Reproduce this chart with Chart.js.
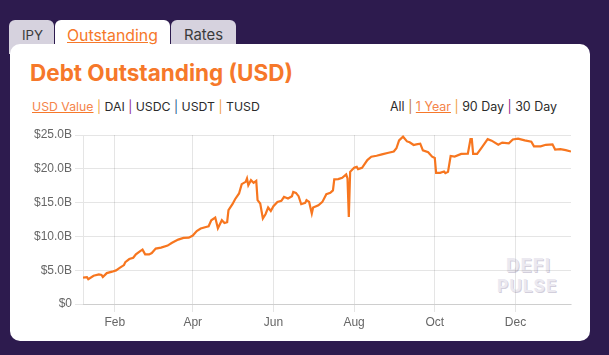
<!DOCTYPE html>
<html><head><meta charset="utf-8">
<script src="https://cdn.jsdelivr.net/npm/chart.js@4.4.1/dist/chart.umd.min.js"></script>
<style>
html,body{margin:0;padding:0;width:609px;height:355px;overflow:hidden;background:#2d1b4e;}
.tab{position:absolute;top:20px;height:34px;border-radius:6px 6px 0 0;background:#d6d2de;}
.tabtxt{position:absolute;white-space:nowrap;font-family:Inter,sans-serif;font-size:15px;line-height:15px;color:#3b3b3b;}
#card{position:absolute;left:10px;top:44px;width:580px;height:297px;background:#fff;border-radius:10px;}
.fit{position:absolute;white-space:nowrap;display:inline-block;}
#title{font-family:Inter,sans-serif;font-weight:700;color:#f6782a;font-size:24px;line-height:24px;}
.row{font-family:Inter,sans-serif;font-size:12px;line-height:12px;color:#2b2b2b;}
.sel{color:#f5844a;text-decoration:underline;text-decoration-color:#f6782a;}
.wm{font-family:Inter,sans-serif;font-weight:700;color:#ebe9f0;font-size:19px;line-height:19px;letter-spacing:1px;text-shadow:1px 1px 0 #d3cfdc;}
canvas{position:absolute;left:0;top:0;}
</style></head>
<body>
<div class="tab" style="left:9px;width:45px;"></div>
<div class="tab" style="left:55px;width:115px;background:#fff;"></div>
<div class="tab" style="left:171px;width:65px;"></div>
<div id="card"></div>
<span class="tabtxt fit" data-x="22" data-w="21" data-y="28">IPY</span>
<span class="tabtxt fit" data-x="67" data-w="91" data-y="28" style="color:#f6782a;text-decoration:underline;">Outstanding</span>
<span class="tabtxt fit" data-x="184" data-w="39" data-y="28">Rates</span>
<span id="title" class="fit" data-x="30" data-w="263" data-y="61">Debt Outstanding (USD)</span>
<span class="row fit" data-x="32" data-w="228" data-y="101"><span class="sel">USD Value</span> <span style="color:#f0a040">|</span> DAI <span style="color:#8c2a8c">|</span> USDC <span style="color:#2a5a8c">|</span> USDT <span style="color:#f0a040">|</span> TUSD</span>
<span class="row fit" data-x="390" data-w="167" data-y="101">All <span style="color:#b8742e">|</span> <span class="sel">1 Year</span> <span style="color:#f0a040">|</span> 90 Day <span style="color:#8c1a8c">|</span> 30 Day</span>
<span class="wm fit" data-x="506" data-w="45" data-y="256">DEFI</span>
<span class="wm fit" data-x="497" data-w="60" data-y="276">PULSE</span>
<canvas id="c" width="609" height="355"></canvas>
<script>
// ---- data (USD billions) ----
const dates = [
 "2021-01-08","2021-01-11","2021-01-12","2021-01-16","2021-01-20","2021-01-22","2021-01-23","2021-01-26","2021-01-30","2021-02-02",
 "2021-02-05","2021-02-08","2021-02-09","2021-02-12","2021-02-15","2021-02-17","2021-02-20","2021-02-22","2021-02-24","2021-02-27",
 "2021-03-01","2021-03-04","2021-03-08","2021-03-13","2021-03-16","2021-03-21","2021-03-25","2021-03-29","2021-04-01","2021-04-04",
 "2021-04-07","2021-04-11","2021-04-13","2021-04-15","2021-04-18","2021-04-20","2021-04-23","2021-04-25","2021-04-27","2021-04-28",
 "2021-05-01","2021-05-03","2021-05-06","2021-05-08","2021-05-11","2021-05-12","2021-05-13","2021-05-15","2021-05-17","2021-05-19",
 "2021-05-20","2021-05-22","2021-05-24","2021-05-26","2021-05-28","2021-05-30","2021-06-01","2021-06-04","2021-06-07","2021-06-09",
 "2021-06-12","2021-06-15","2021-06-16","2021-06-18","2021-06-20","2021-06-22","2021-06-25","2021-06-26","2021-06-28","2021-06-30",
 "2021-07-01","2021-07-05","2021-07-08","2021-07-11","2021-07-14","2021-07-16","2021-07-17","2021-07-20","2021-07-23","2021-07-26",
 "2021-07-27","2021-07-28","2021-07-29","2021-08-01","2021-08-03","2021-08-04","2021-08-07","2021-08-11","2021-08-14","2021-08-18",
 "2021-08-22","2021-08-27","2021-08-31","2021-09-02","2021-09-04","2021-09-07","2021-09-10","2021-09-12","2021-09-15","2021-09-17",
 "2021-09-20","2021-09-22","2021-09-26","2021-09-29","2021-10-01","2021-10-02","2021-10-05","2021-10-08","2021-10-09","2021-10-11",
 "2021-10-13","2021-10-16","2021-10-21","2021-10-26","2021-10-28","2021-10-29","2021-10-30","2021-11-02","2021-11-06","2021-11-10",
 "2021-11-13","2021-11-18","2021-11-21","2021-11-26","2021-11-29","2021-12-03","2021-12-08","2021-12-13","2021-12-15","2021-12-20",
 "2021-12-24","2021-12-29","2021-12-31","2022-01-04","2022-01-08","2022-01-12"
];
const debtUSD = [
 3.89,3.98,3.68,4.18,4.38,4.30,3.98,4.57,4.78,4.97,
 5.37,5.76,6.2,6.65,6.85,7.34,7.79,8.04,7.34,7.34,
 7.54,8.19,8.34,8.64,9.02,9.52,9.77,9.82,10.12,10.8,
 11.16,11.4,11.5,12.39,12.79,11.2,12.39,11.99,12.1,13.87,
 14.76,15.5,16.35,17.73,18.07,18.57,17.58,18.32,17.92,18.22,
 15.36,14.87,12.64,13.28,14.27,13.77,14.47,15.1,15.25,15.85,
 15.61,15.95,16.59,16.44,15.95,14.76,14.96,15.36,15.1,13.38,
 14.27,14.61,15.1,16.25,16.44,16.8,18.45,18.47,18.67,19.17,
 18.57,12.88,19.55,20.15,20.3,19.96,20.15,21.29,21.78,21.93,
 22.13,22.37,22.55,23.03,24.2,24.75,24.05,23.92,23.52,23.62,
 23.72,22.72,22.45,21.8,21.6,19.4,19.4,19.6,19.35,19.55,
 21.9,21.82,22.2,22.25,24.38,24.38,22.2,22.2,23.27,24.38,
 24.16,23.55,23.88,23.77,24.33,24.45,24.2,24.0,23.32,23.32,
 23.55,23.62,22.85,22.9,22.77,22.55
];
const yTickValues = [0,5,10,15,20,25];
const yTickLabels = ["$0","$5.0B","$10.0B","$15.0B","$20.0B","$25.0B"];
const xTickDates = ["2021-02-01","2021-04-01","2021-06-01","2021-08-01","2021-10-01","2021-12-01"];
const xTickLabels = ["Feb","Apr","Jun","Aug","Oct","Dec"];

// ---- text fitting ----
document.querySelectorAll('.fit').forEach(el=>{
  const w = +el.dataset.w;
  const fs = parseFloat(getComputedStyle(el).fontSize);
  const cur = el.getBoundingClientRect().width;
  el.style.fontSize = (fs*w/cur).toFixed(2)+'px';
  el.style.left = el.dataset.x+'px';
  el.style.top = el.dataset.y+'px';
});

const DAY = 86400000, base = Date.UTC(2021,0,1);
function dayNum(s){const p=s.split('-').map(Number);return (Date.UTC(p[0],p[1]-1,p[2])-base)/DAY;}
const points = dates.map((d,i)=>({x:dayNum(d), y:debtUSD[i]}));
const xTicks = xTickDates.map(dayNum);

new Chart(document.getElementById('c'),{
  type:'line',
  data:{datasets:[{data:points,borderColor:'#f7761f',borderWidth:2.2,pointRadius:0,tension:0,fill:false}]},
  options:{
    responsive:false,animation:false,
    plugins:{legend:{display:false},tooltip:{enabled:false}},
    layout:{padding:{left:22,right:38,top:135,bottom:21}},
    scales:{
      x:{type:'linear',min:points[0].x,max:points[points.length-1].x,
        afterBuildTicks:s=>{s.ticks=xTicks.map(v=>({value:v}));},
        afterFit:s=>{s.height=30;},
        ticks:{autoSkip:false,maxRotation:0,color:'#666',font:{size:12},
          callback:(v)=>{const i=xTicks.indexOf(v);return i>=0?xTickLabels[i]:'';}},
        grid:{color:'rgba(0,0,0,0.1)'}},
      y:{min:0,max:25,
        afterBuildTicks:s=>{s.ticks=yTickValues.map(v=>({value:v}));},
        afterFit:s=>{s.width=61;},
        ticks:{color:'#666',font:{size:12},
          callback:(v)=>{const i=yTickValues.indexOf(v);return i>=0?yTickLabels[i]:'';}},
        grid:{color:'rgba(0,0,0,0.1)'}}
    }
  }
});
</script>
</body></html>
